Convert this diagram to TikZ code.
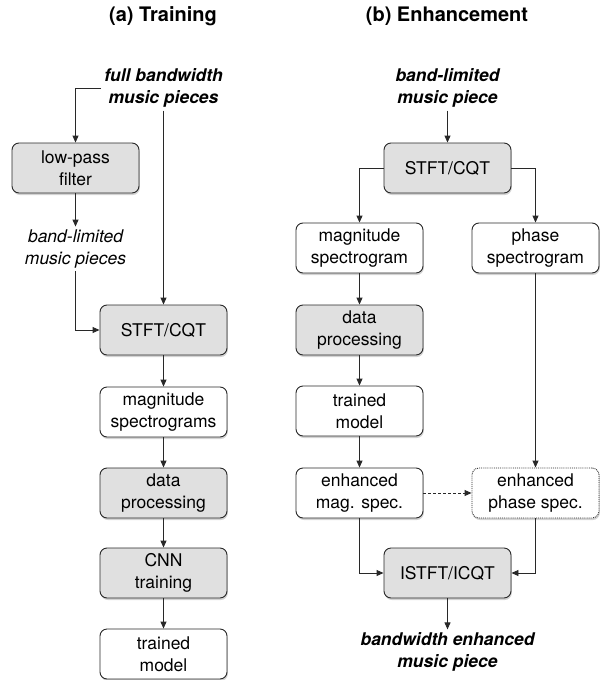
\documentclass[tikz,border=0pt]{standalone}
\usepackage{fontspec}
\setmainfont{TeX Gyre Heros}
\usetikzlibrary{arrows.meta,shadows}
\definecolor{boxgrey}{RGB}{224,224,224}
\definecolor{edgec}{RGB}{40,40,40}
\begin{document}
\begin{tikzpicture}[x=1pt,y=-1pt,
  base/.style={draw=edgec,line width=0.9pt,rounded corners=7pt,minimum width=127pt,minimum height=50pt,
    align=center,inner sep=1pt,font=\fontsize{17.5}{22}\selectfont,
    drop shadow={opacity=0.35,shadow xshift=0.8pt,shadow yshift=-2pt}},
  gbox/.style={base,fill=boxgrey},
  wbox/.style={base,fill=white},
  dbox/.style={base,fill=white,densely dotted},
  io/.style={align=center,inner sep=3pt,font=\fontsize{17.5}{22}\selectfont\bfseries\itshape},
  iolight/.style={align=center,inner sep=3pt,font=\fontsize{17.5}{22}\selectfont\itshape},
  ttl/.style={font=\fontsize{20}{24}\selectfont\bfseries},
  conn/.style={draw=edgec,line width=0.9pt,-{Triangle[length=7pt,width=6pt]}},
  dconn/.style={conn,densely dashed}
]
\useasboundingbox (0,0) rectangle (600,680);
% titles
\node[ttl] (ta) at (163,16) {(a) Training};
\node[ttl] (tb) at (447,16) {(b) Enhancement};
% left column
\node[io] (fb) at (163.5,88) {full bandwidth\\music pieces};
\node[gbox] (lp) at (75.5,168) {low-pass\\filter};
\node[iolight] (bl) at (75.5,249) {band-limited\\music pieces};
\node[gbox] (s1) at (163.5,330) {STFT/CQT};
\node[wbox] (m1) at (163.5,412) {magnitude\\spectrograms};
\node[gbox] (d1) at (163.5,493) {data\\processing};
\node[gbox] (c1) at (163.5,573) {CNN\\training};
\node[wbox] (t1) at (163.5,654) {trained\\model};
\draw[conn] (fb.west) -| (lp.north);
\draw[conn] (lp.south) -- (bl.north);
\draw[conn] (bl.south) |- (s1.west);
\draw[conn] (fb.south) -- (s1.north);
\draw[conn] (s1) -- (m1);
\draw[conn] (m1) -- (d1);
\draw[conn] (d1) -- (c1);
\draw[conn] (c1) -- (t1);
% right column
\node[io] (bl2) at (447.5,88) {band-limited\\music piece};
\node[gbox] (s2) at (447.5,168) {STFT/CQT};
\node[wbox] (m2) at (359.5,248) {magnitude\\spectrogram};
\node[wbox] (p2) at (535.5,248) {phase\\spectrogram};
\node[gbox] (d2) at (359.5,330) {data\\processing};
\node[wbox] (t2) at (359.5,411) {trained\\model};
\node[wbox] (em) at (359.5,493) {enhanced\\mag. spec.};
\node[dbox] (ep) at (535.5,493) {enhanced\\phase spec.};
\node[gbox] (is) at (447.5,573) {ISTFT/ICQT};
\node[io] (out) at (447.5,652) {bandwidth enhanced\\music piece};
\draw[conn] (bl2.south) -- (s2.north);
\draw[conn] (s2.west) -| (m2.north);
\draw[conn] (s2.east) -| (p2.north);
\draw[conn] (m2) -- (d2);
\draw[conn] (d2) -- (t2);
\draw[conn] (t2) -- (em);
\draw[conn] (p2) -- (ep);
\draw[dconn] (em) -- (ep);
\draw[conn] (em.south) |- (is.west);
\draw[conn] (ep.south) |- (is.east);
\draw[conn] (is.south) -- (out.north);
\end{tikzpicture}
\end{document}
